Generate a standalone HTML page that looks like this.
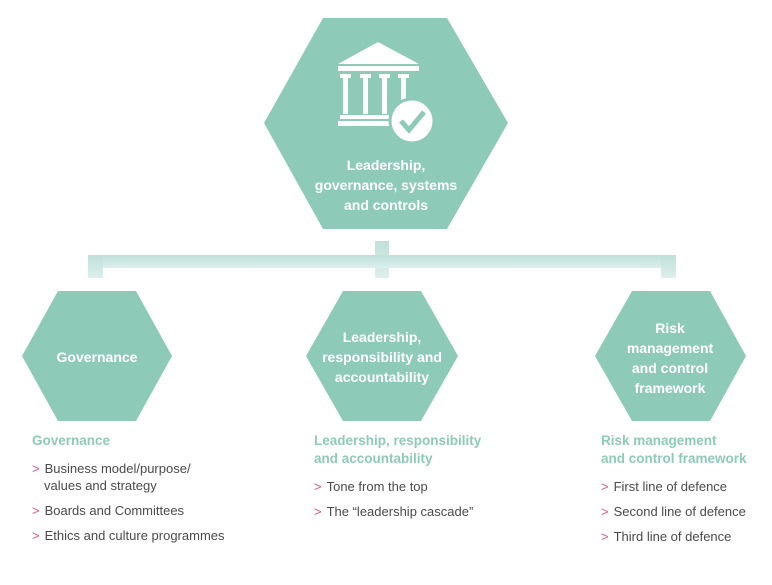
<!DOCTYPE html>
<html><head><style>
body{margin:0;width:772px;height:585px;background:#fff;position:relative;overflow:hidden;font-family:"Liberation Sans",sans-serif;}
.t{position:absolute;font-size:13px;color:#4a4a4a;line-height:17px}
.h{color:#8ecab8;font-weight:bold;font-size:13.5px;line-height:18px}
.a{color:#e0558b;margin-right:5px}
.row{margin-top:8px;padding-left:12px;text-indent:-12px}
</style></head><body>
<svg width="772" height="585" style="position:absolute;left:0;top:0">
<defs><linearGradient id="g" x1="0" y1="0" x2="0" y2="1"><stop offset="0" stop-color="#bfe0da"/><stop offset="1" stop-color="#dcefec"/></linearGradient></defs>
<polygon points="323,18 447,18 508,123 447,229 323,229 264,123" fill="#8ecab8"/>
<rect x="375" y="241" width="14" height="37" fill="url(#g)"/>
<rect x="88" y="255" width="588" height="13" fill="url(#g)"/>
<rect x="88" y="255" width="15" height="23" fill="url(#g)"/>
<rect x="661" y="255" width="15" height="23" fill="url(#g)"/>
<polygon points="58,291 136,291 172,356 136,421 58,421 22,356" fill="#8ecab8"/>
<polygon points="343,291 421,291 458,356 421,421 343,421 306,356" fill="#8ecab8"/>
<polygon points="632,291 710,291 746,356 710,421 632,421 595,356" fill="#8ecab8"/>
<g fill="#fff">
<polygon points="338,64 378,42 419,64"/>
<rect x="338" y="66" width="81" height="5"/>
<rect x="340" y="74" width="11" height="4"/><rect x="343" y="78" width="5" height="36"/>
<rect x="360" y="74" width="11" height="4"/><rect x="363" y="78" width="5" height="36"/>
<rect x="379" y="74" width="11" height="4"/><rect x="382" y="78" width="5" height="36"/>
<rect x="398" y="74" width="11" height="4"/><rect x="401" y="78" width="5" height="22"/>
<rect x="340" y="115" width="55" height="4"/><rect x="338" y="121" width="57" height="5"/>
<circle cx="412" cy="121" r="22" stroke="#8ecab8" stroke-width="3"/>
</g>
<polyline points="401,121 409,130 424,112" fill="none" stroke="#8ecab8" stroke-width="5"/>
<g fill="#fff" font-weight="bold" font-size="14" text-anchor="middle" font-family="Liberation Sans,sans-serif">
<text x="386" y="170">Leadership,</text>
<text x="386" y="190">governance, systems</text>
<text x="386" y="210">and controls</text>
<text x="97" y="362">Governance</text>
<text x="382" y="342">Leadership,</text>
<text x="382" y="362">responsibility and</text>
<text x="382" y="382">accountability</text>
<text x="670" y="333">Risk</text>
<text x="670" y="353">management</text>
<text x="670" y="373">and control</text>
<text x="670" y="393">framework</text>
</g>
</svg>
<div class="t" style="left:32px;top:432px;width:220px">
<div class="h">Governance</div>
<div class="row" style="margin-top:10px"><span class="a">&gt;</span>Business model/purpose/<br>values and strategy</div>
<div class="row"><span class="a">&gt;</span>Boards and Committees</div>
<div class="row"><span class="a">&gt;</span>Ethics and culture programmes</div>
</div>
<div class="t" style="left:314px;top:432px;width:220px">
<div class="h">Leadership, responsibility<br>and accountability</div>
<div class="row" style="margin-top:10px"><span class="a">&gt;</span>Tone from the top</div>
<div class="row"><span class="a">&gt;</span>The “leadership cascade”</div>
</div>
<div class="t" style="left:601px;top:432px;width:170px">
<div class="h">Risk management<br>and control framework</div>
<div class="row" style="margin-top:10px"><span class="a">&gt;</span>First line of defence</div>
<div class="row"><span class="a">&gt;</span>Second line of defence</div>
<div class="row"><span class="a">&gt;</span>Third line of defence</div>
</div>
</body></html>
